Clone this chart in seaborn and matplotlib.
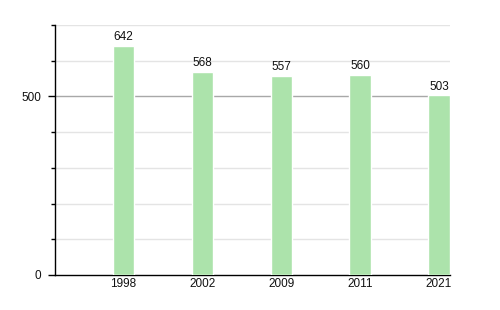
import matplotlib
matplotlib.use("Agg")
import matplotlib.pyplot as plt
import seaborn as sns
import pandas as pd
from matplotlib.ticker import FixedLocator

years = ["1998", "2002", "2009", "2011", "2021"]
values = [642, 568, 557, 560, 503]

df = pd.DataFrame({"year": years, "value": values})

sns.set_style("white")
plt.rcParams['font.family'] = ['Liberation Sans', 'DejaVu Sans']

fig = plt.figure(figsize=(5, 3.1), dpi=100)
ax = fig.add_axes([0.11, 0.113, 0.79, 0.806])

sns.barplot(data=df, x="year", y="value", color="#ace3ab", width=0.27,
            saturation=1, ax=ax, zorder=3)

ax.set_ylim(0, 700)
ax.set_xlim(-0.87, 4.14)

# gridlines
for v in range(100, 701, 100):
    ax.axhline(v, color="#a8a8a8" if v == 500 else "#e4e4e4", lw=1, zorder=1)

fs = 8.5
ax.yaxis.set_major_locator(FixedLocator([0, 500]))
ax.yaxis.set_minor_locator(FixedLocator([100, 200, 300, 400, 600, 700]))
ax.tick_params(axis="y", which="major", length=5, width=1, color="black",
               labelsize=fs, pad=5, left=True, labelcolor="#111111")
ax.tick_params(axis="y", which="minor", length=3, width=1, color="black", left=True)
ax.tick_params(axis="x", length=0, labelsize=fs, pad=2.5, labelcolor="#111111")

for s in ["top", "right"]:
    ax.spines[s].set_visible(False)
for s in ["left", "bottom"]:
    ax.spines[s].set_color("black")
    ax.spines[s].set_linewidth(1)

ax.set_xlabel("")
ax.set_ylabel("")

for i, v in enumerate(values):
    ax.text(i, v + 8, str(v), ha="center", va="bottom", fontsize=fs, color="#111111", zorder=4)

fig.savefig("out.png", dpi=100, facecolor="white")
